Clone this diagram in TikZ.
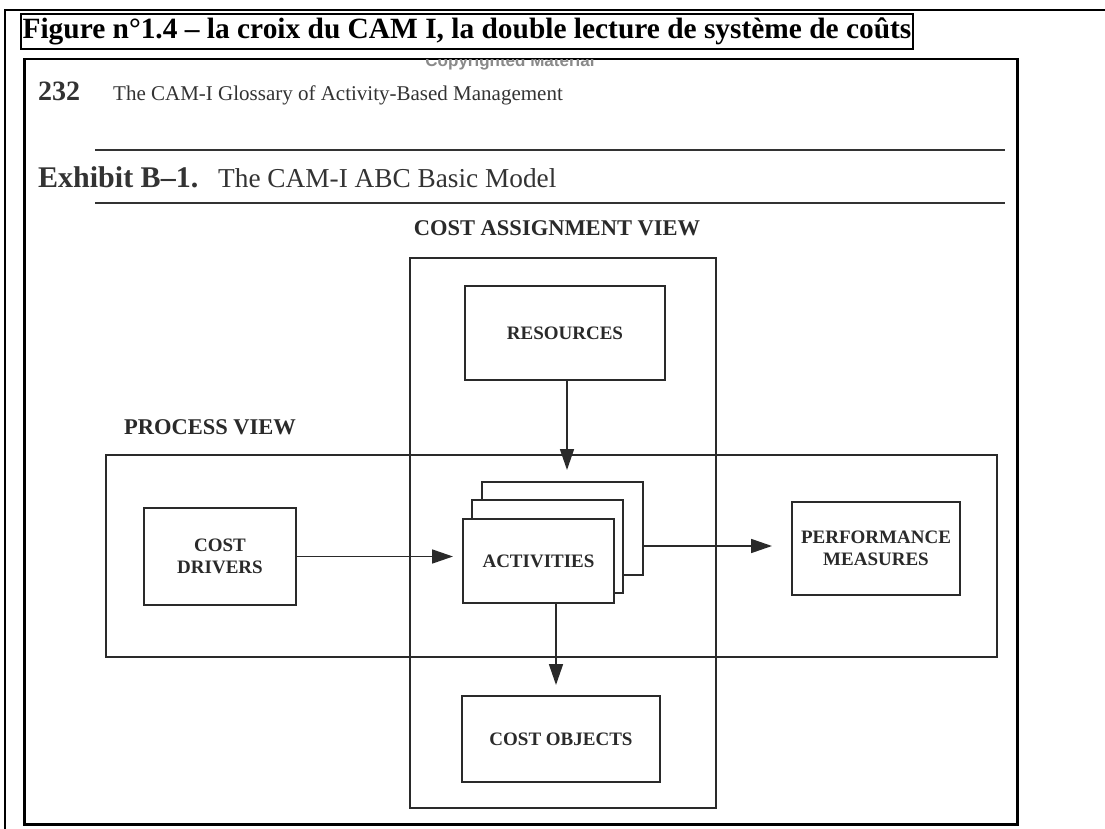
\documentclass[tikz,border=0pt]{standalone}
\usepackage{fontspec}
\setmainfont{Liberation Serif}
\newfontfamily\sansf{Liberation Sans}
\usetikzlibrary{arrows.meta,calc}
\definecolor{ink}{HTML}{2A2A2A}
\definecolor{scan}{HTML}{333333}
\definecolor{copyg}{HTML}{8A8A8A}
\begin{document}
\begin{tikzpicture}[x=1pt,y=-1pt,
  box/.style={draw=ink,line width=1.7pt,fill=white,inner sep=0pt,outer sep=0pt,align=center,
    font=\bfseries\fontsize{19}{22}\selectfont,text=ink},
  viewbox/.style={draw=ink,line width=2.6pt,inner sep=0pt,outer sep=0pt,anchor=north west},
  arr/.style={draw=ink,line width=1.7pt,-{Triangle[length=21pt,width=14pt]}},
  lbl/.style={font=\bfseries\fontsize{22.5}{24}\selectfont,text=ink,inner sep=0pt}]
\useasboundingbox[fill=white] (0,0) rectangle (1105,829);
% outer table lines
\draw[line width=2pt] (5,829) -- (5,10) -- (1105,10);
% title
\node[draw,line width=2pt,inner sep=0pt,minimum width=892pt,minimum height=35pt,anchor=north west,
  font=\bfseries\fontsize{29.4}{30}\selectfont] (title) at (20,13)
  {Figure n°1.4 – la croix du CAM I, la double lecture de système de coûts};
% image frame
\node[draw,line width=2.5pt,minimum width=993pt,minimum height=765pt,anchor=north west,inner sep=0pt] (frame) at (23,58) {};
\begin{scope}
  \clip (24,60) rectangle (1015,822);
  \node[anchor=base,text=copyg,inner sep=0pt,font=\sansf\bfseries\fontsize{17}{17}\selectfont] (copy) at (510,67) {Copyrighted Material};
\end{scope}
% header
\node[anchor=base west,inner sep=0pt,text=scan,font=\bfseries\fontsize{28}{28}\selectfont] (pg) at (38,101) {232};
\node[anchor=base west,inner sep=0pt,text=scan,font=\fontsize{21}{21}\selectfont] (gl) at (113,101) {The CAM-I Glossary of Activity-Based Management};
\draw[scan,line width=1.2pt] (95,150) -- (1005,150);
\node[anchor=base west,inner sep=0pt,text=scan,font=\bfseries\fontsize{30}{30}\selectfont] (ex) at (38,188) {Exhibit B–1.};
\node[anchor=base west,inner sep=0pt,text=scan,font=\fontsize{27.3}{27.3}\selectfont] (ext) at (218,188) {The CAM-I ABC Basic Model};
\draw[scan,line width=1.2pt] (95,203) -- (1005,203);
% views
\node[lbl] (cav) at (557,228) {COST ASSIGNMENT VIEW};
\node[lbl] (pv) at (210,427) {PROCESS VIEW};
\node[viewbox,minimum width=306pt,minimum height=550pt] (cab) at (410,258) {};
\node[viewbox,minimum width=891pt,minimum height=202pt] (pvb) at (106,455) {};
% boxes
\node[box,minimum width=200pt,minimum height=94pt] (res) at (565,333) {RESOURCES};
\node[box,minimum width=152pt,minimum height=97pt] (cd) at (220,556.5) {COST\\DRIVERS};
\node[box,minimum width=161pt,minimum height=93pt] (back) at (562.5,528.5) {};
\node[box,minimum width=151pt,minimum height=93pt] (mid) at (547.5,546.5) {};
\node[box,minimum width=151pt,minimum height=84pt] (front) at (538.5,561) {ACTIVITIES};
\node[box,minimum width=168pt,minimum height=93pt] (perf) at (876,548.5) {PERFORMANCE\\MEASURES};
\node[box,minimum width=198pt,minimum height=86pt] (co) at (561,739) {COST OBJECTS};
% arrows
\draw[arr,shorten >=12pt] ([xshift=2pt]res.south) -- ([xshift=2pt]res.south |- back.north);
\draw[arr,shorten >=10pt] (cd.east) -- (cd.east -| front.west);
\draw[arr,shorten >=20pt] ([yshift=-17.5pt]back.east) -- ([yshift=-17.5pt]back.east -| perf.west);
\draw[arr,shorten >=11pt] ([xshift=-5pt]co.north |- front.south) -- ([xshift=-5pt]co.north);
\end{tikzpicture}
\end{document}
